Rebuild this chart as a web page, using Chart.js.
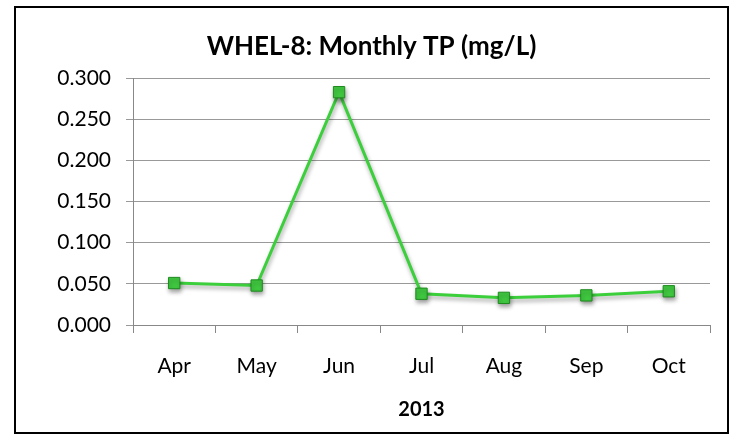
<!DOCTYPE html>
<html>
<head>
<meta charset="utf-8">
<script src="https://cdn.jsdelivr.net/npm/chart.js@4"></script>
<style>
  html, body { margin: 0; padding: 0; background: #fff; }
  #wrap { position: relative; width: 743px; height: 440px; }
</style>
</head>
<body>
<div id="wrap"><canvas id="tpChart" width="743" height="440"></canvas></div>
<script>
// WHEL-8 monthly total phosphorus
const months = ['Apr', 'May', 'Jun', 'Jul', 'Aug', 'Sep', 'Oct'];
const tpValues = [0.051, 0.048, 0.283, 0.038, 0.033, 0.036, 0.041];
const yTicks = [0, 0.05, 0.1, 0.15, 0.2, 0.25, 0.3];

const fontFamily = 'Lato, "Open Sans", sans-serif';

// black frame around the whole chart
const framePlugin = {
    id: 'frame',
    beforeDraw(chart) {
        const ctx = chart.ctx;
        ctx.save();
        ctx.fillStyle = '#fff';
        ctx.fillRect(0, 0, chart.width, chart.height);
        ctx.strokeStyle = '#000';
        ctx.lineWidth = 2;
        ctx.strokeRect(15, 7, 713, 426);
        ctx.restore();
    }
};

// soft drop shadow under the line and markers
const shadowPlugin = {
    id: 'shadow',
    beforeDatasetsDraw(chart) {
        const ctx = chart.ctx;
        ctx.save();
        ctx.shadowColor = 'rgba(0,0,0,0.35)';
        ctx.shadowBlur = 4;
        ctx.shadowOffsetX = 1;
        ctx.shadowOffsetY = 3;
    },
    afterDatasetsDraw(chart) {
        chart.ctx.restore();
    }
};

const tpChart = document.getElementById('tpChart');

const tpChartData = {
    labels: months,
    datasets: [
        {
            label: 'TP',
            data: tpValues,
            borderColor: '#3ccf3c',
            borderWidth: 3,
            pointStyle: 'rect',
            pointRadius: 8,
            pointBackgroundColor: '#40c840',
            pointBorderColor: '#1e8a1e',
            pointBorderWidth: 1,
            tension: 0
        }
    ]
};

const tpChartConfig = {
    type: 'line',
    data: tpChartData,
    options: {
        responsive: false,
        animation: false,
        layout: {
            padding: { left: 33, right: 33, top: 0, bottom: 0 }
        },
        plugins: {
            legend: { display: false },
            tooltip: { enabled: false },
            title: {
                display: true,
                text: 'WHEL-8: Monthly TP (mg/L)',
                color: '#000',
                font: { family: fontFamily, size: 26, weight: 'bold' },
                padding: { top: 31, bottom: 16 }
            }
        },
        scales: {
            x: {
                offset: true,
                grid: {
                    display: true,
                    drawOnChartArea: false,
                    drawTicks: true,
                    tickLength: 8,
                    color: '#888',
                    offset: true
                },
                border: { color: '#888', width: 1 },
                ticks: {
                    color: '#000',
                    padding: 21,
                    font: { family: fontFamily, size: 21 }
                },
                title: {
                    display: true,
                    text: '2013',
                    color: '#000',
                    font: { family: fontFamily, size: 20, weight: 'bold' },
                    padding: { top: 0, bottom: 18 }
                },
                afterFit(scale) { scale.height = 115; }
            },
            y: {
                min: 0,
                max: 0.3,
                afterBuildTicks(scale) {
                    scale.ticks = yTicks.map(v => ({ value: v }));
                },
                grid: {
                    color: '#999',
                    tickLength: 7,
                    lineWidth: 1
                },
                border: { color: '#888', width: 1 },
                ticks: {
                    color: '#000',
                    padding: 15,
                    font: { family: fontFamily, size: 21 },
                    callback: v => Number(v).toFixed(3)
                },
                afterFit(scale) { scale.width = 100; }
            }
        }
    },
    plugins: [framePlugin, shadowPlugin]
};

const tpChartInstance = new Chart(tpChart, tpChartConfig);
</script>
</body>
</html>
